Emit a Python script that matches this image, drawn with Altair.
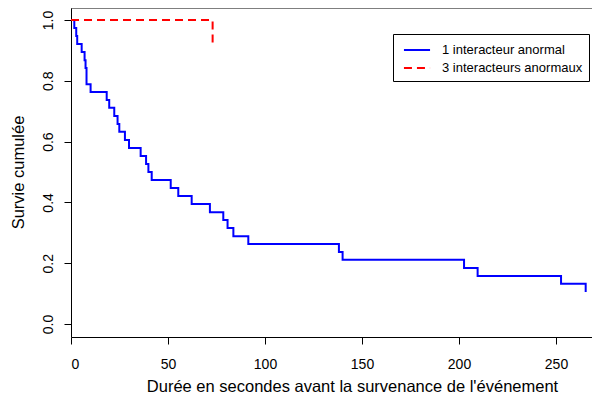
import altair as alt
import pandas as pd

groups = ["1 interacteur anormal", "3 interacteurs anormaux"]

blue_times = [0, 1.7, 2.7, 3.2, 5.5, 7.0, 7.5, 8.0, 10.1, 18.4, 19.7, 22.3, 24.0,
              24.9, 27.8, 29.9, 35.9, 38.7, 39.9, 41.6, 51.4, 55.3, 62.2, 71.6,
              78.5, 80.7, 83.7, 91.4, 138.1, 140.0, 202.6, 209.6, 252.6, 265.3]
blue_surv = [1.0, 0.974, 0.947, 0.921, 0.895, 0.868, 0.842, 0.789, 0.763, 0.737,
             0.711, 0.684, 0.658, 0.632, 0.605, 0.579, 0.553, 0.526, 0.5, 0.474,
             0.447, 0.421, 0.395, 0.368, 0.342, 0.316, 0.289, 0.263, 0.237, 0.211,
             0.184, 0.158, 0.132, 0.105]

red_times = [0, 73.0]
red_surv = [1.0, 0.923]

x_ticks = [0, 50, 100, 150, 200, 250]
y_ticks = [0.0, 0.2, 0.4, 0.6, 0.8, 1.0]

rows = []
for t, s in zip(blue_times, blue_surv):
    rows.append({"t": t, "s": s, "g": groups[0]})
for t, s in zip(red_times, red_surv):
    rows.append({"t": t, "s": s, "g": groups[1]})
df = pd.DataFrame(rows)

W = 521
H = 329
PX_PER_UNIT = 1.94
x_max = W / PX_PER_UNIT
y_lo = -13 / 304
y_hi = 1 + 12 / 304

FONT = "Liberation Sans"

lines = alt.Chart(df).mark_line(interpolate="step-after", strokeWidth=2, clip=True).encode(
    x=alt.X("t:Q",
            scale=alt.Scale(domain=[0, x_max], nice=False, zero=False),
            axis=alt.Axis(values=x_ticks, format="d",
                          title="Durée en secondes avant la survenance de l'événement",
                          labelPadding=13.5, labelFontSize=14,
                          titleX=281, titleY=54, titleBaseline="alphabetic",
                          titleAlign="center")),
    y=alt.Y("s:Q",
            scale=alt.Scale(domain=[y_lo, y_hi], nice=False, zero=False),
            axis=alt.Axis(values=y_ticks, format=".1f", title="Survie cumulée",
                          labelAngle=270, labelAlign="center", labelBaseline="alphabetic",
                          labelPadding=12, labelFontSize=14,
                          titleAngle=270, titleX=-47.5, titleY=164,
                          titleBaseline="alphabetic", titleAlign="center")),
    color=alt.Color("g:N", title=None,
                    scale=alt.Scale(domain=groups, range=["#0000FF", "#FF0000"])),
    strokeDash=alt.StrokeDash("g:N", title=None,
                              scale=alt.Scale(domain=groups, range=[[1, 0], [8, 5]])),
)

frame = pd.DataFrame({"a": [0]})
top_border = alt.Chart(frame).mark_rule(color="black", strokeWidth=1).encode(
    x=alt.value(0), x2=alt.value(W), y=alt.value(0)
)

chart = alt.layer(lines, top_border).properties(
    width=W, height=H,
    autosize=alt.AutoSizeParams(type="none"),
    padding={"left": 63, "top": 0, "right": 0, "bottom": 58},
).configure_view(
    stroke="transparent"
).configure_axis(
    grid=False, domainColor="black", domainWidth=1, tickColor="black", tickSize=7,
    tickWidth=1, labelFont=FONT, labelColor="black", titleFont=FONT,
    titleFontSize=16.5, titleFontWeight="normal", titleColor="black",
).configure_legend(
    orient="none", legendX=322, legendY=26, strokeColor="black", fillColor="white",
    padding=6, cornerRadius=0, symbolType="M-1.45,0L1.45,0", symbolSize=324,
    symbolStrokeWidth=2, symbolOffset=8, labelOffset=15, labelFont=FONT,
    labelFontSize=13, labelColor="black", rowPadding=1, titlePadding=0,
)

chart.save("out.html", embed_options={"renderer": "svg", "actions": False})
